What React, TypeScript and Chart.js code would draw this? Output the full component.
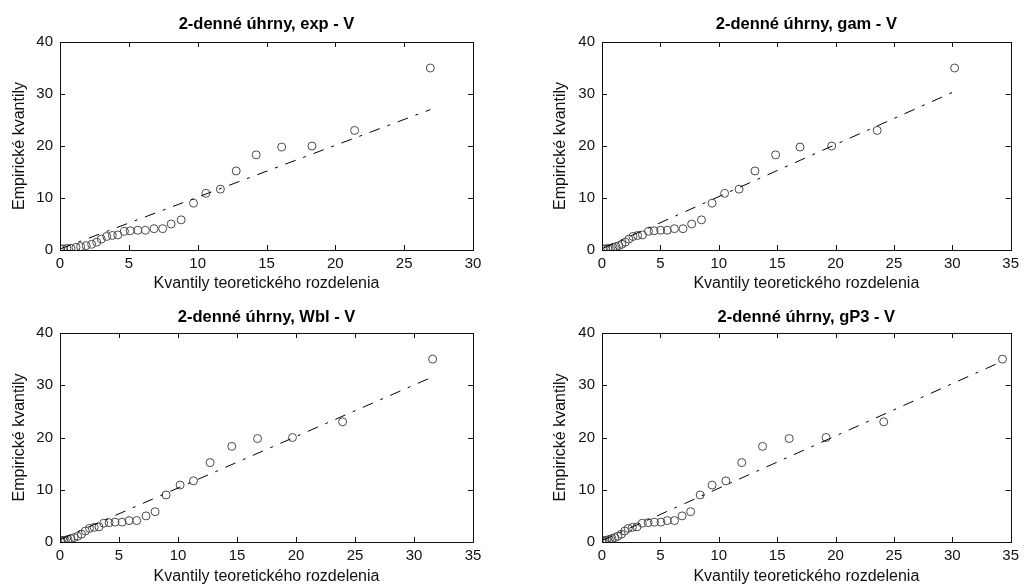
import React, { useEffect, useRef } from "react";
import { Chart, registerables } from "chart.js";

Chart.register(...registerables);

// Empirical quantiles (sorted observations), shared by all four panels
const empirical = [0.2, 0.2, 0.3, 0.3, 0.5, 0.65, 0.85, 1.1, 1.5, 2.1, 2.6, 2.8, 2.9, 3.6, 3.7, 3.8, 3.8, 4.1, 4.1, 5.0, 5.8, 9.0, 10.9, 11.7, 15.2, 18.3, 19.8, 20.0, 23.0, 35.0];

// Theoretical quantiles for each distribution
const expQ = [0.05, 0.24, 0.5, 0.8, 1.16, 1.5, 1.9, 2.3, 2.67, 3.0, 3.4, 3.8, 4.2, 4.68, 5.1, 5.65, 6.2, 6.83, 7.46, 8.07, 8.8, 9.7, 10.6, 11.65, 12.8, 14.25, 16.1, 18.3, 21.4, 26.9];
const gamQ = [0.1, 0.3, 0.5, 0.72, 0.95, 1.2, 1.45, 1.7, 2.0, 2.3, 2.65, 3.05, 3.47, 3.98, 4.46, 5.02, 5.59, 6.2, 6.94, 7.68, 8.52, 9.43, 10.5, 11.74, 13.1, 14.87, 16.96, 19.67, 23.57, 30.2];
const wblQ = [0.03, 0.12, 0.27, 0.45, 0.68, 0.93, 1.2, 1.5, 1.82, 2.15, 2.5, 2.9, 3.3, 3.7, 4.16, 4.66, 5.26, 5.85, 6.5, 7.29, 8.06, 8.99, 10.18, 11.31, 12.72, 14.56, 16.74, 19.7, 23.95, 31.58];
const gp3Q = [0.02, 0.1, 0.25, 0.42, 0.62, 0.85, 1.1, 1.35, 1.65, 1.95, 2.25, 2.6, 3.0, 3.45, 3.95, 4.49, 5.05, 5.59, 6.21, 6.86, 7.59, 8.41, 9.43, 10.61, 11.97, 13.75, 16.03, 19.19, 24.13, 34.3];

// Reference lines (end points)
const expLineX = [0.05, 26.9];
const expLineY = [0.25, 27.0];
const gamLineX = [0.1, 30.2];
const gamLineY = [0.35, 30.5];
const wblLineX = [0.03, 31.58];
const wblLineY = [0.5, 31.6];
const gp3LineX = [0.02, 34.3];
const gp3LineY = [0.3, 34.6];

const titles = ["2-denné úhrny, exp - V", "2-denné úhrny, gam - V", "2-denné úhrny, Wbl - V", "2-denné úhrny, gP3 - V"];
const xMaxes = [30, 35, 35, 35];
const xTitle = "Kvantily teoretického rozdelenia";
const yTitle = "Empirické kvantily";

const FONT = "'Liberation Sans', Arial, Helvetica, sans-serif";

const boxPlugin = {
  id: "boxTicks",
  afterDraw(chart: any) {
    const { ctx, chartArea } = chart;
    const { left, right, top, bottom } = chartArea;
    ctx.save();
    ctx.strokeStyle = "#111";
    ctx.lineWidth = 1;
    ctx.strokeRect(Math.round(left) + 0.5, Math.round(top) + 0.5, Math.round(right - left), Math.round(bottom - top));
    const L = 5;
    const xs = chart.scales.x;
    const ys = chart.scales.y;
    ctx.beginPath();
    xs.ticks.forEach((t: any) => {
      const px = Math.round(xs.getPixelForValue(t.value)) + 0.5;
      ctx.moveTo(px, bottom);
      ctx.lineTo(px, bottom - L);
      ctx.moveTo(px, top);
      ctx.lineTo(px, top + L);
    });
    ys.ticks.forEach((t: any) => {
      const py = Math.round(ys.getPixelForValue(t.value)) + 0.5;
      ctx.moveTo(left, py);
      ctx.lineTo(left + L, py);
      ctx.moveTo(right, py);
      ctx.lineTo(right - L, py);
    });
    ctx.stroke();
    ctx.restore();
  },
};

type PanelProps = {
  left: number;
  top: number;
  xs: number[];
  lineX: number[];
  lineY: number[];
  title: string;
  xMax: number;
  padLeft: number;
  yAxisWidth: number;
  padRight: number;
  titleTop: number;
  titleBottom: number;
  xAxisHeight: number;
};

const W = 512;
const H = 293;

function Panel(p: PanelProps) {
  const ref = useRef<HTMLCanvasElement | null>(null);
  useEffect(() => {
    if (!ref.current) return;
    const chart = new Chart(ref.current, {
      type: "scatter",
      data: {
        datasets: [
          {
            type: "line",
            data: p.lineX.map((x, i) => ({ x, y: p.lineY[i] })),
            borderColor: "#000",
            borderWidth: 1,
            borderDash: [11, 8, 3, 8],
            pointRadius: 0,
            fill: false,
          } as any,
          {
            type: "scatter",
            data: p.xs.map((x, i) => ({ x, y: empirical[i] })),
            pointStyle: "circle",
            pointRadius: 4,
            pointBorderWidth: 1,
            pointBackgroundColor: "rgba(0,0,0,0)",
            pointBorderColor: "#4a4a4a",
            borderColor: "#4a4a4a",
            backgroundColor: "rgba(0,0,0,0)",
          } as any,
        ],
      },
      options: {
        responsive: false,
        animation: false,
        layout: { padding: { left: p.padLeft, right: p.padRight, top: 0, bottom: 0 } },
        plugins: {
          legend: { display: false },
          tooltip: { enabled: false },
          title: {
            display: true,
            text: p.title,
            fullSize: false,
            color: "#000",
            font: { family: FONT, size: 16.5, weight: "bold", lineHeight: 1.2 },
            padding: { top: p.titleTop, bottom: p.titleBottom },
          },
        },
        scales: {
          x: {
            type: "linear",
            min: 0,
            max: p.xMax,
            grid: { display: false, drawTicks: false },
            border: { display: false },
            ticks: { stepSize: 5, padding: 5, color: "#111", font: { family: FONT, size: 15 } },
            title: {
              display: true,
              text: xTitle,
              color: "#111",
              font: { family: FONT, size: 16 },
              padding: { top: 0, bottom: 0 },
            },
            afterFit: (s: any) => {
              s.height = p.xAxisHeight;
            },
          },
          y: {
            type: "linear",
            min: 0,
            max: 40,
            grid: { display: false, drawTicks: false },
            border: { display: false },
            ticks: { stepSize: 10, padding: 7, color: "#111", font: { family: FONT, size: 15 } },
            title: {
              display: true,
              text: yTitle,
              color: "#111",
              font: { family: FONT, size: 16 },
              padding: { top: 0, bottom: 0 },
            },
            afterFit: (s: any) => {
              s.width = p.yAxisWidth;
            },
          },
        },
      } as any,
      plugins: [boxPlugin],
    });
    return () => chart.destroy();
  }, []);
  return (
    <div style={{ position: "absolute", left: p.left, top: p.top, width: W, height: H }}>
      <canvas ref={ref} width={W} height={H} style={{ width: W, height: H, display: "block" }} />
    </div>
  );
}

export default function App() {
  return (
    <div style={{ position: "fixed", left: 0, top: 0, width: 1024, height: 586, background: "#fff", overflow: "hidden" }}>
      <Panel left={0} top={0} xs={expQ} lineX={expLineX} lineY={expLineY} title={titles[0]} xMax={xMaxes[0]}
        padLeft={9.9} yAxisWidth={50.1} padRight={39} titleTop={14.6} titleBottom={7.6} xAxisHeight={43} />
      <Panel left={512} top={0} xs={gamQ} lineX={gamLineX} lineY={gamLineY} title={titles[1]} xMax={xMaxes[1]}
        padLeft={39.4} yAxisWidth={50.6} padRight={9} titleTop={14.6} titleBottom={7.6} xAxisHeight={43} />
      <Panel left={0} top={293} xs={wblQ} lineX={wblLineX} lineY={wblLineY} title={titles[2]} xMax={xMaxes[2]}
        padLeft={9.9} yAxisWidth={50.1} padRight={39} titleTop={14.6} titleBottom={5.6} xAxisHeight={44} />
      <Panel left={512} top={293} xs={gp3Q} lineX={gp3LineX} lineY={gp3LineY} title={titles[3]} xMax={xMaxes[3]}
        padLeft={39.4} yAxisWidth={50.6} padRight={9} titleTop={14.6} titleBottom={5.6} xAxisHeight={44} />
    </div>
  );
}
